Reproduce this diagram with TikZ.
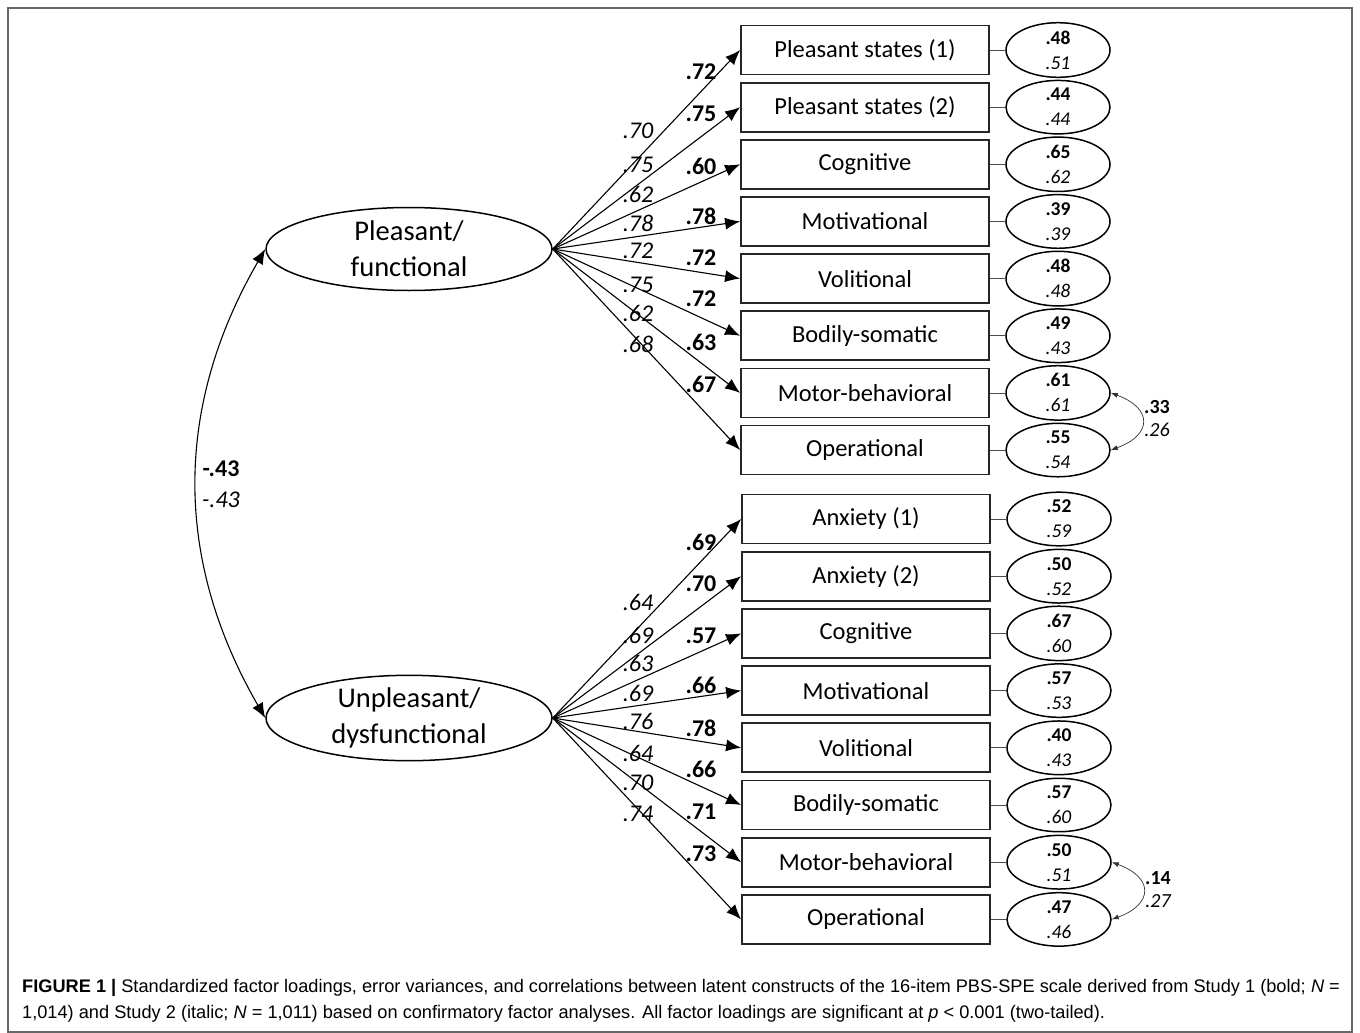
\documentclass[tikz,border=0pt]{standalone}
\usepackage{fontspec}
\setmainfont{Carlito}
\newfontfamily\capfont{Liberation Sans}
\usetikzlibrary{shapes.geometric, arrows.meta, positioning}

\begin{document}
\begin{tikzpicture}[x=1pt, y=-1pt,
  latent/.style={draw, ellipse, line width=1.5pt, minimum width=286pt, minimum height=83pt,
                 inner sep=0pt, align=center, font=\fontsize{28.5}{36}\selectfont},
  item/.style={draw=black!85, line width=1.8pt, minimum width=248pt, minimum height=49pt,
               inner sep=0pt, font=\fontsize{24.5}{28}\selectfont},
  err/.style={draw, ellipse, line width=1.5pt, minimum width=104pt, minimum height=47pt,
              inner sep=0pt, align=center, font=\fontsize{19.5}{25}\selectfont},
  arr/.style={-{Latex[length=15pt, width=12pt]}, line width=1.1pt},
  cov/.style={{Latex[length=15pt, width=12pt]}-{Latex[length=15pt, width=12pt]}, line width=1.1pt},
  ecov/.style={{Latex[length=7pt, width=5pt]}-{Latex[length=7pt, width=5pt]}, line width=0.7pt, black!80},
  lb/.style={font=\fontsize{24}{28}\selectfont\bfseries},
  li/.style={font=\fontsize{24}{28}\selectfont\itshape},
  rb/.style={font=\fontsize{20}{24}\selectfont\bfseries},
  ri/.style={font=\fontsize{20}{24}\selectfont\itshape},
]
\useasboundingbox (0,0) rectangle (1360,1033);
\draw[black!60, line width=2pt] (8,8) rectangle (1352,1032);

% latent factors
\node[latent] (pf) at (409,249) {Pleasant/\\functional};
\node[latent] (uf) at (409,718) {Unpleasant/\\dysfunctional};

% first factor
\foreach \txt/\eb/\ei [count=\i] in {Pleasant states (1)/.48/.51, Pleasant states (2)/.44/.44,
    Cognitive/.65/.62, Motivational/.39/.39, Volitional/.48/.48, Bodily-somatic/.49/.43,
    Motor-behavioral/.61/.61, Operational/.55/.54} {
  \node[item] (p\i) at (865,{50+57.15*(\i-1)}) {\txt};
  \node[err] (ep\i) at (1058,{50+57.15*(\i-1)}) {\textbf{\eb}\\\textit{\ei}};
  \draw[black!70, line width=0.8pt] (p\i) -- (ep\i);
  \draw[arr] (pf.east) -- (p\i.west);
}

% second factor
\foreach \txt/\eb/\ei [count=\i] in {Anxiety (1)/.52/.59, Anxiety (2)/.50/.52,
    Cognitive/.67/.60, Motivational/.57/.53, Volitional/.40/.43, Bodily-somatic/.57/.60,
    Motor-behavioral/.50/.51, Operational/.47/.46} {
  \node[item] (u\i) at (866,{519+57.2*(\i-1)}) {\txt};
  \node[err] (eu\i) at (1059,{519+57.2*(\i-1)}) {\textbf{\eb}\\\textit{\ei}};
  \draw[black!70, line width=0.8pt] (u\i) -- (eu\i);
  \draw[arr] (uf.east) -- (u\i.west);
}

% loadings
\foreach \v/\y [count=\i] in {.72/72, .75/114, .60/166, .78/216, .72/258, .72/299, .63/342, .67/384}
  \node[lb] (bp\i) at (701,\y) {\v};
\foreach \v/\y [count=\i] in {.70/131, .75/165, .62/194, .78/223, .72/251, .75/285, .62/313, .68/344}
  \node[li] (ip\i) at (638,\y) {\v};
\foreach \v/\y [count=\i] in {.69/542, .70/584, .57/636, .66/685, .78/728, .66/769, .71/812, .73/854}
  \node[lb] (bu\i) at (701,\y) {\v};
\foreach \v/\y [count=\i] in {.64/602, .69/635, .63/663, .69/693, .76/721, .64/753, .70/783, .74/814}
  \node[li] (iu\i) at (638,\y) {\v};

% factor correlation
\draw[cov] (pf.west) to[out=240, in=120] (uf.west);
\node[font=\fontsize{24}{28}\selectfont\bfseries] (rb) at (221,469) {-.43};
\node[font=\fontsize{24}{28}\selectfont\itshape] (ri) at (221,500) {-.43};

% error covariances
\draw[ecov] (ep7.east) to[out=-20, in=20, looseness=2] (ep8.east);
\node[rb] (cpb) at (1157,407) {.33};
\node[ri] (cpi) at (1157,430) {.26};
\draw[ecov] (eu7.east) to[out=-20, in=20, looseness=2] (eu8.east);
\node[rb] (cub) at (1158,878) {.14};
\node[ri] (cui) at (1158,901) {.27};

% caption
\node[anchor=north west, align=left, inner sep=0pt, font=\capfont\fontsize{18.2}{26}\selectfont] (cap) at (22,979)
  {\textbf{FIGURE 1 |} Standardized factor loadings, error variances, and correlations between latent constructs of the 16-item PBS-SPE scale derived from Study 1 (bold; \textit{N} =\\
   1,014) and Study 2 (italic; \textit{N} = 1,011) based on confirmatory factor analyses. All factor loadings are significant at \textit{p} < 0.001 (two-tailed).};
\end{tikzpicture}
\end{document}
